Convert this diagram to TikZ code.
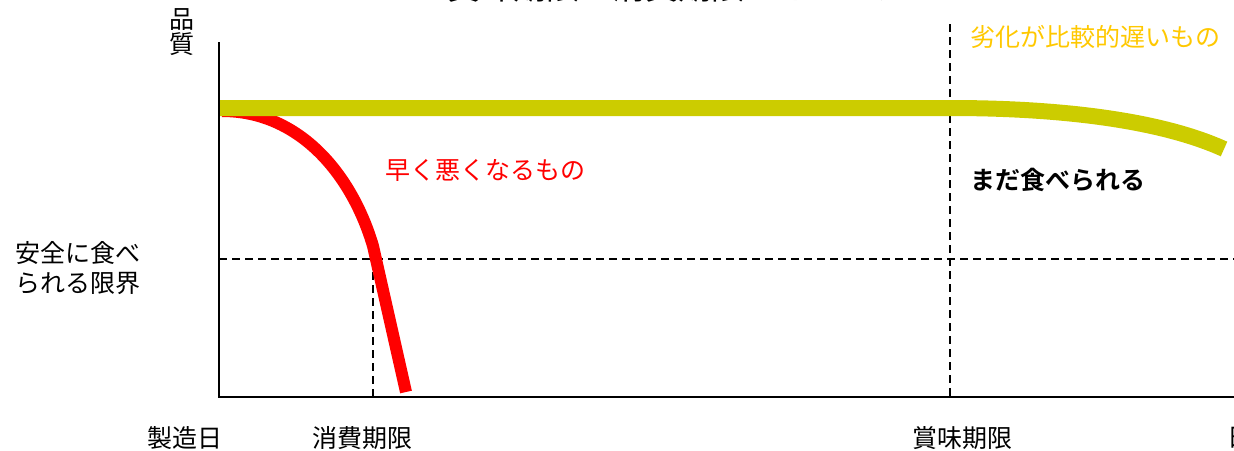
\documentclass[tikz,border=0pt]{standalone}
\usepackage{fontspec}
\setmainfont{Noto Sans CJK JP}[BoldFont={Noto Sans CJK JP Bold}]
\usetikzlibrary{positioning}
\definecolor{slowgreen}{RGB}{204,204,0}
\definecolor{slowtext}{RGB}{255,200,0}

\begin{document}
\begin{tikzpicture}[
            x=0.5pt, y=-0.5pt,
            every node/.style={font=\fontsize{12.5}{15}\selectfont, inner sep=0pt}
        ]

        % Define styles
        \tikzset{
            axis/.style={draw=black, line width=1.2pt},
            guide/.style={draw=black, line width=0.8pt, dash pattern=on 4pt off 2.5pt},
            slowline/.style={draw=slowgreen, line width=8pt},
            fastline/.style={draw=red, line width=6pt},
            datelabel/.style={anchor=center},
            note/.style={anchor=west}
        }

        \useasboundingbox (0,0) rectangle (1234,450);

        % Title (cut off at the top)
        \node[font=\fontsize{16.5}{18}\selectfont, anchor=south] (title) at (678,3) {賞味期限と消費期限のイメージ};

        % Axes
        \coordinate (origin) at (219,397);
        \coordinate (ytop) at (219,42);
        \coordinate (xend) at (1234,397);
        \draw[axis] (ytop) -- (origin) -- (xend);
        \node[align=center, font=\fontsize{12.5}{12.5}\selectfont] (quality) at (182,32) {品\\質};

        % Guide lines
        \coordinate (limitL) at (219,259);
        \coordinate (limitR) at (1234,259);
        \coordinate (useby) at (373,259);
        \coordinate (usebyfoot) at (373,397);
        \coordinate (bestbytop) at (950,24);
        \coordinate (bestbyfoot) at (950,397);
        \draw[guide] (limitL) -- (limitR);
        \draw[guide] (useby) -- (usebyfoot);
        \draw[guide] (bestbytop) -- (bestbyfoot);

        % Curves
        \coordinate (fastA) at (222,111);
        \coordinate (fastB) at (373,246);
        \coordinate (fastC) at (406,392);
        \draw[fastline] (fastA) .. controls (300,111) and (352,175) .. (fastB) -- (fastC);
        \coordinate (slowA) at (220,108);
        \coordinate (slowB) at (950,108);
        \coordinate (slowC) at (1224,149);
        \draw[slowline] (slowA) -- (slowB) .. controls (1060,108) and (1160,120) .. (slowC);

        % Labels
        \node[align=left, anchor=west, font=\fontsize{12.5}{15}\selectfont] (safe) at (15,268) {安全に食べ\\られる限界};
        \node[datelabel] (made) at (185,438) {製造日};
        \node[datelabel] (usebylabel) at (362,438) {消費期限};
        \node[datelabel] (bestbylabel) at (962,438) {賞味期限};
        \node[anchor=west] (days) at (1227,438) {日};
        \node[note, text=red] (fastlabel) at (385,170) {早く悪くなるもの};
        \node[note, text=slowtext] (slowlabel) at (970,37) {劣化が比較的遅いもの};
        \node[note, font=\fontsize{12.5}{15}\selectfont\bfseries] (stillok) at (970,180) {まだ食べられる};

\end{tikzpicture}
\end{document}
